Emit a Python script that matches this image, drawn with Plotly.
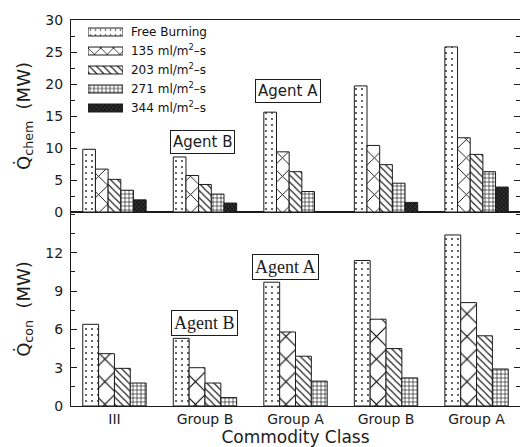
import plotly.graph_objects as go

# ---------------- data ----------------
categories = ["III", "Group B", "Group A", "Group B", "Group A"]
series_names = [
    "Free Burning",
    "135 ml/m<sup>2</sup>–s",
    "203 ml/m<sup>2</sup>–s",
    "271 ml/m<sup>2</sup>–s",
    "344 ml/m<sup>2</sup>–s",
]

# Q_chem (MW), top panel
chem_free = [9.8, 8.6, 15.6, 19.7, 25.8]
chem_135 = [6.7, 5.7, 9.4, 10.4, 11.6]
chem_203 = [5.1, 4.3, 6.3, 7.4, 9.0]
chem_271 = [3.4, 2.8, 3.2, 4.5, 6.3]
chem_344 = [1.9, 1.4, None, 1.5, 3.9]

# Q_con (MW), bottom panel
con_free = [6.4, 5.3, 9.7, 11.4, 13.4]
con_135 = [4.1, 3.0, 5.8, 6.8, 8.1]
con_203 = [2.95, 1.8, 3.9, 4.5, 5.5]
con_271 = [1.8, 0.66, 1.95, 2.2, 2.9]

chem_series = [chem_free, chem_135, chem_203, chem_271, chem_344]
con_series = [con_free, con_135, con_203, con_271]
xpos = list(range(len(categories)))

# ---------------- styles ----------------
INK = "#1c1c1c"
FONT = "DejaVu Sans"
styles = [
    dict(shape=".", bg="white", fg=INK, size=6, solidity=0.07),
    dict(shape="x", bg="white", fg="#000000", size=13, solidity=0.13),
    dict(shape="\\", bg="white", fg=INK, size=5, solidity=0.24),
    dict(shape="+", bg="white", fg=INK, size=4, solidity=0.3),
    dict(shape="x", bg="#161616", fg="#6a6a6a", size=3, solidity=0.22),
]
bottom_sizes = [6, 16, 5, 4]


def pattern(st, size=None):
    return dict(shape=st["shape"], bgcolor=st["bg"], fgcolor=st["fg"],
                size=size if size else st["size"], solidity=st["solidity"],
                fillmode="replace")


fig = go.Figure()

# top panel bars
for name, vals, st in zip(series_names, chem_series, styles):
    fig.add_trace(go.Bar(
        x=xpos, y=vals, name=name, xaxis="x2", yaxis="y2",
        marker=dict(color="white", pattern=pattern(st),
                    line=dict(color=INK, width=1)),
        showlegend=False,
    ))

# bottom panel bars
for name, vals, st, sz in zip(series_names, con_series, styles, bottom_sizes):
    fig.add_trace(go.Bar(
        x=xpos, y=vals, name=name, xaxis="x", yaxis="y",
        marker=dict(color="white", pattern=pattern(st, sz),
                    line=dict(color=INK, width=1)),
        showlegend=False,
    ))

# legend keys (drawn as bars on a small helper axis)
fig.add_trace(go.Bar(
    y=series_names, x=[1] * len(series_names), orientation="h",
    xaxis="x3", yaxis="y3", width=0.42, showlegend=False, hoverinfo="skip",
    marker=dict(
        color="white",
        line=dict(color=INK, width=1),
        pattern=dict(
            shape=[s["shape"] for s in styles],
            bgcolor=[s["bg"] for s in styles],
            fgcolor=[s["fg"] for s in styles],
            size=[5, 9, 5, 4, 3],
            solidity=[0.08, 0.16, 0.24, 0.3, 0.22],
            fillmode="replace",
        ),
    ),
))

SPLIT = 0.5026
axis_common = dict(showline=True, linecolor=INK, linewidth=1, showgrid=False,
                   zeroline=False)

fig.update_layout(
    width=520, height=447,
    margin=dict(l=71, r=0, t=20, b=41),
    paper_bgcolor="white", plot_bgcolor="white",
    font=dict(family=FONT, color=INK, size=14),
    barmode="group", bargap=0.3, bargroupgap=0,
    xaxis=dict(domain=[0, 1], anchor="y", range=[-0.48, 4.48],
               tickmode="array", tickvals=xpos, ticktext=categories,
               ticks="", mirror=True, tickfont=dict(size=14),
               title=dict(text="Commodity Class", font=dict(size=17), standoff=0),
               **axis_common),
    xaxis2=dict(domain=[0, 1], anchor="y2", range=[-0.48, 4.48],
                showticklabels=False, ticks="", mirror=True, matches="x",
                **axis_common),
    yaxis=dict(domain=[0, SPLIT], anchor="x", range=[0, 15.2],
               tickmode="array", tickvals=[0, 3, 6, 9, 12],
               ticks="inside", ticklen=6, tickcolor=INK, mirror="ticks",
               ticklabelstandoff=4,
               minor=dict(tickmode="linear", tick0=0, dtick=1.5, ticks="inside",
                          ticklen=4, tickcolor=INK),
               title=dict(text="Q̇<sub>con</sub>  (MW)", font=dict(size=18), standoff=10),
               **axis_common),
    yaxis2=dict(domain=[SPLIT, 1], anchor="x2", range=[0, 30],
                tickmode="linear", tick0=0, dtick=5,
                ticks="inside", ticklen=6, tickcolor=INK, mirror="ticks",
                ticklabelstandoff=4,
                minor=dict(tickmode="linear", tick0=0, dtick=2.5, ticks="inside",
                           ticklen=4, tickcolor=INK),
                title=dict(text="Q̇<sub>chem</sub>  (MW)", font=dict(size=18), standoff=10),
                **axis_common),
    xaxis3=dict(domain=[0.0379, 0.1158], anchor="y3", range=[0, 1],
                visible=False, fixedrange=True),
    yaxis3=dict(domain=[0.7474, 0.9935], anchor="x3", type="category",
                autorange="reversed", side="right", showline=False,
                showgrid=False, ticks="", ticklabelstandoff=7,
                tickfont=dict(size=12, color="#111")),
)

# panel labels
ann_common = dict(xref="paper", yref="paper", showarrow=False,
                  bordercolor=INK, borderwidth=1, borderpad=2,
                  bgcolor="white", xanchor="center", yanchor="middle")


def px_x(px):
    return (px - 71) / 449.0


def px_y(py):
    return (406 - py) / 386.0


fig.add_annotation(text="Agent B", x=px_x(202), y=px_y(142),
                   font=dict(family=FONT, size=15), **ann_common)
fig.add_annotation(text="Agent A", x=px_x(288), y=px_y(90.5),
                   font=dict(family=FONT, size=15), **ann_common)
fig.add_annotation(text="Agent B", x=px_x(204.5), y=px_y(322.5),
                   font=dict(family="Liberation Serif", size=18), **ann_common)
fig.add_annotation(text="Agent A", x=px_x(285.5), y=px_y(266.5),
                   font=dict(family="Liberation Serif", size=18), **ann_common)

fig.write_html("out.html")
